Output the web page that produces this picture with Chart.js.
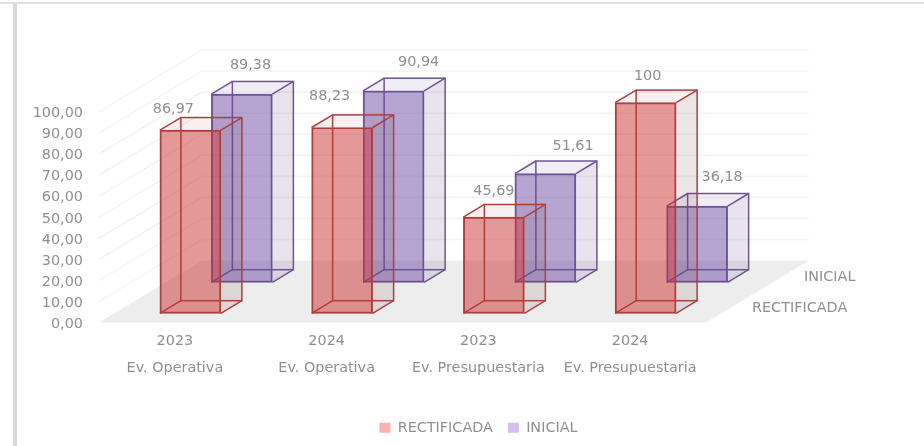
<!DOCTYPE html>
<html>
<head>
<meta charset="utf-8">
<style>
  html, body { margin: 0; padding: 0; background: #fff; overflow: hidden; }
  #topline { position: absolute; left: 0; top: 2px; width: 924px; height: 1.5px; background: #e0e0e0; }
  #leftbar { position: absolute; left: 13px; top: 3px; width: 4px; height: 443px; background: #d9d9d9; }
  canvas { position: absolute; left: 0; top: 0; }
</style>
<script src="https://cdn.jsdelivr.net/npm/chart.js@4"></script>
</head>
<body>
<div id="topline"></div>
<div id="leftbar"></div>
<canvas id="myChart" width="924" height="446"></canvas>
<script>
const years = ['2023', '2024', '2023', '2024'];
const groups = ['Ev. Operativa', 'Ev. Operativa', 'Ev. Presupuestaria', 'Ev. Presupuestaria'];
const rectificada = [86.97, 88.23, 45.69, 100];
const inicial = [89.38, 90.94, 51.61, 36.18];
const seriesNames = ['RECTIFICADA', 'INICIAL'];
const yTicks = [0, 10, 20, 30, 40, 50, 60, 70, 80, 90, 100];

const fontName = '"DejaVu Sans", sans-serif';
const textColor = '#8f8f8f';
const fontSize = 14.4;

// how the 3D view is faked: wall depth, bar depth, and where each series sits on the floor
const wallDepth = { x: 103, y: -62 };
const barDepth = { x: 21, y: -12.6 };
const seriesLook = [
  { shift: { x: 15.5, y: -9.3 }, face: 'rgba(201,49,49,0.5)', edge: '#a8403e', side: 'rgba(110,60,60,0.13)', top: 'rgba(140,60,70,0.08)', swatch: '#fdb0b0',
    labelOffset: [[-17, -21], [-12.5, -31], [0, -26], [2, -26]], seriesLabelX: 46, seriesLabelY: -14 },
  { shift: { x: 67, y: -40.3 }, face: 'rgba(111,75,163,0.5)', edge: '#6d5492', side: 'rgba(90,60,120,0.14)', top: 'rgba(90,60,140,0.09)', swatch: '#d2bff0',
    labelOffset: [[8.6, -29], [25, -29], [27.7, -27], [25, -28.5]], seriesLabelX: 98, seriesLabelY: -45 }
];

const decimalComma = (v) => String(v).replace('.', ',');

// floor, back wall and side wall, built from the y scale
const wallsPlugin = {
  id: 'walls',
  beforeDatasetsDraw(chart) {
    const { ctx, chartArea: area, scales: { y } } = chart;
    ctx.save();
    ctx.fillStyle = '#ededed';
    ctx.beginPath();
    ctx.moveTo(area.left, area.bottom);
    ctx.lineTo(area.left + wallDepth.x, area.bottom + wallDepth.y);
    ctx.lineTo(area.right + wallDepth.x, area.bottom + wallDepth.y);
    ctx.lineTo(area.right, area.bottom);
    ctx.closePath();
    ctx.fill();

    yTicks.slice(1).forEach((tick) => {
      const py = y.getPixelForValue(tick);
      ctx.strokeStyle = '#f1f1f1';
      ctx.lineWidth = 1.3;
      ctx.beginPath();
      ctx.moveTo(area.left, py);
      ctx.lineTo(area.left + wallDepth.x, py + wallDepth.y);
      ctx.stroke();
      ctx.strokeStyle = '#f3f3f3';
      ctx.lineWidth = 1.6;
      ctx.beginPath();
      ctx.moveTo(area.left + wallDepth.x, py + wallDepth.y);
      ctx.lineTo(area.right + wallDepth.x, py + wallDepth.y);
      ctx.stroke();
    });
    ctx.restore();
  },
  afterLayout(chart) {
    chart.legend.left = 33;
    chart.legend.right = 924;
    chart.legend.top -= 1;
  }
};

// each series is moved back on the floor, then the hidden edges and the side and top faces
// go in before the library paints the front face of the bar
const boxPlugin = {
  id: 'box',
  beforeDatasetDraw(chart, args) {
    const { ctx } = chart;
    const look = seriesLook[args.index];
    ctx.save();
    ctx.translate(look.shift.x, look.shift.y);
    const dx = barDepth.x;
    const dy = barDepth.y;
    args.meta.data.forEach((bar) => {
      const x0 = bar.x - bar.width / 2;
      const x1 = bar.x + bar.width / 2;
      const top = bar.y;
      const base = bar.base;

      ctx.fillStyle = look.side;
      ctx.beginPath();
      ctx.moveTo(x1, top);
      ctx.lineTo(x1 + dx, top + dy);
      ctx.lineTo(x1 + dx, base + dy);
      ctx.lineTo(x1, base);
      ctx.closePath();
      ctx.fill();

      ctx.fillStyle = look.top;
      ctx.beginPath();
      ctx.moveTo(x0, top);
      ctx.lineTo(x0 + dx, top + dy);
      ctx.lineTo(x1 + dx, top + dy);
      ctx.lineTo(x1, top);
      ctx.closePath();
      ctx.fill();

      ctx.strokeStyle = look.edge;
      ctx.lineWidth = 1.5;
      ctx.strokeRect(x0 + dx, top + dy, bar.width, base - top);
      ctx.beginPath();
      [[x0, top], [x1, top], [x0, base], [x1, base]].forEach(([px, py]) => {
        ctx.moveTo(px, py);
        ctx.lineTo(px + dx, py + dy);
      });
      ctx.stroke();
    });
  },
  afterDatasetDraw(chart) {
    chart.ctx.restore();
  },
  afterDatasetsDraw(chart) {
    const { ctx, chartArea: area } = chart;
    ctx.save();
    ctx.font = fontSize + 'px ' + fontName;
    ctx.fillStyle = textColor;
    ctx.textBaseline = 'middle';
    chart.data.datasets.forEach((dataset, d) => {
      const look = seriesLook[d];
      ctx.textAlign = 'center';
      chart.getDatasetMeta(d).data.forEach((bar, i) => {
        const off = look.labelOffset[i];
        ctx.fillText(decimalComma(dataset.data[i]), bar.x + look.shift.x + off[0], bar.y + look.shift.y + off[1]);
      });
      ctx.textAlign = 'left';
      ctx.fillText(seriesNames[d], area.right + look.seriesLabelX, area.bottom + look.seriesLabelY);
    });
    ctx.restore();
  }
};

const ctx = document.getElementById('myChart');

new Chart(ctx, {
  type: 'bar',
  data: {
    labels: years.map((year, i) => [year, groups[i]]),
    datasets: [
      { label: seriesNames[0], data: rectificada, backgroundColor: seriesLook[0].face, borderColor: seriesLook[0].edge },
      { label: seriesNames[1], data: inicial, backgroundColor: seriesLook[1].face, borderColor: seriesLook[1].edge }
    ]
  },
  options: {
    responsive: false,
    animation: false,
    devicePixelRatio: 1,
    layout: { padding: { top: 112, right: 218, left: 0, bottom: 0 } },
    datasets: {
      bar: { grouped: false, barThickness: 61, borderWidth: 1.3, borderSkipped: false, clip: false }
    },
    plugins: {
      tooltip: { enabled: false },
      legend: {
        position: 'bottom',
        labels: {
          boxWidth: 11,
          boxHeight: 10,
          padding: 15,
          color: textColor,
          font: { family: fontName, size: fontSize },
          generateLabels(chart) {
            return seriesNames.map((name, i) => ({
              text: name,
              fillStyle: seriesLook[i].swatch,
              strokeStyle: seriesLook[i].swatch,
              fontColor: textColor,
              lineWidth: 0,
              datasetIndex: i
            }));
          }
        }
      }
    },
    scales: {
      x: {
        grid: { display: false },
        border: { display: false },
        afterFit(scale) { scale.height = 84; },
        ticks: {
          autoSkip: false,
          maxRotation: 0,
          padding: -3,
          color: textColor,
          font: { family: fontName, size: fontSize, lineHeight: 1.88 }
        }
      },
      y: {
        min: 0,
        max: 100,
        grid: { display: false, drawTicks: false },
        border: { display: false },
        afterFit(scale) { scale.width = 99; },
        afterBuildTicks(scale) { scale.ticks = yTicks.map((value) => ({ value })); },
        ticks: {
          padding: 16,
          labelOffset: 1.5,
          color: textColor,
          font: { family: fontName, size: fontSize },
          callback: (value) => value.toFixed(2).replace('.', ',')
        }
      }
    }
  },
  plugins: [wallsPlugin, boxPlugin]
});
</script>
</body>
</html>
